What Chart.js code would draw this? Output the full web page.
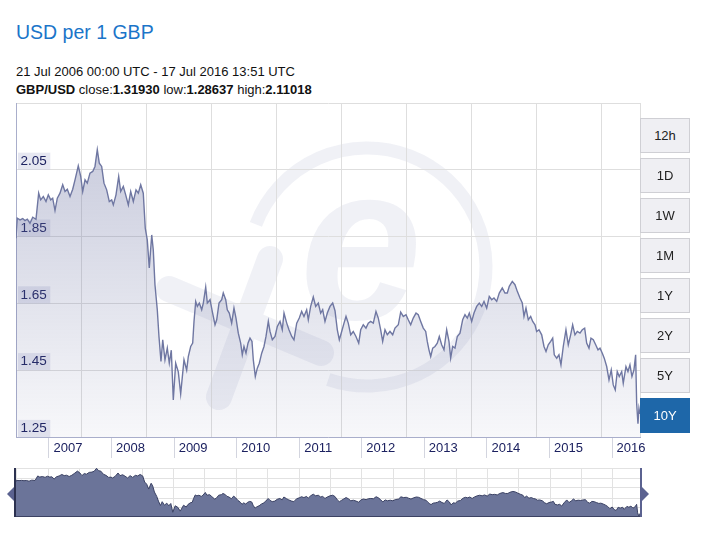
<!DOCTYPE html>
<html>
<head>
<meta charset="utf-8">
<title>USD per 1 GBP</title>
<script src="https://cdn.jsdelivr.net/npm/chart.js@4.4.1/dist/chart.umd.min.js"></script>
<style>
  body { margin: 0; width: 718px; height: 542px; background: #fff; position: relative; overflow: hidden; font-family: 'Liberation Sans', Arial, sans-serif; }
  #title { position: absolute; left: 16px; top: 22px; font-size: 19.5px; line-height: 20px; color: #1b75c9; white-space: nowrap; }
  #info { position: absolute; left: 16px; top: 62.5px; font-size: 13px; line-height: 18px; color: #111; white-space: nowrap; }
  #main-wrap { position: absolute; left: 0; top: 100px; }
  #nav-wrap { position: absolute; left: 0; top: 460px; }
  .range-btn { position: absolute; left: 640px; width: 48px; height: 33px; border: 1px solid #cfcfd4; background: #efeff3; font-size: 13px; line-height: 33px; text-align: center; color: #222; }
  .range-btn.active { background: #1e67a9; border-color: #1e67a9; color: #fff; }
</style>
</head>
<body>
<div id="title">USD per 1 GBP</div>
<div id="info">
  21 Jul 2006 00:00 UTC - 17 Jul 2016 13:51 UTC<br>
  <b>GBP/USD</b> close:<b>1.31930</b> low:<b>1.28637</b> high:<b>2.11018</b>
</div>
<div id="main-wrap"><canvas id="mainChart" width="660" height="359"></canvas></div>
<div id="nav-wrap"><canvas id="navChart" width="660" height="62"></canvas></div>
<div id="buttons"></div>

<script>
// Values (decimal years, USD per 1 GBP)
const dateYears = [
  2006.473, 2006.493, 2006.537, 2006.580, 2006.616, 2006.653, 2006.696, 2006.740, 2006.792, 2006.835,
  2006.867, 2006.909, 2006.952, 2006.989, 2007.027, 2007.059, 2007.096, 2007.133, 2007.176, 2007.219,
  2007.256, 2007.293, 2007.336, 2007.379, 2007.416, 2007.468, 2007.507, 2007.539, 2007.576, 2007.612,
  2007.655, 2007.699, 2007.735, 2007.772, 2007.804, 2007.842, 2007.879, 2007.922, 2007.964, 2008.002,
  2008.028, 2008.071, 2008.114, 2008.146, 2008.188, 2008.226, 2008.268, 2008.306, 2008.348, 2008.391,
  2008.428, 2008.466, 2008.507, 2008.539, 2008.571, 2008.603, 2008.642, 2008.667, 2008.694, 2008.731,
  2008.758, 2008.790, 2008.818, 2008.854, 2008.891, 2008.923, 2008.955, 2008.987, 2009.025, 2009.067,
  2009.105, 2009.158, 2009.201, 2009.227, 2009.265, 2009.297, 2009.318, 2009.345, 2009.371, 2009.403,
  2009.441, 2009.467, 2009.505, 2009.531, 2009.574, 2009.610, 2009.654, 2009.681, 2009.718, 2009.761,
  2009.786, 2009.825, 2009.850, 2009.882, 2009.920, 2009.957, 2009.989, 2010.026, 2010.064, 2010.090,
  2010.117, 2010.149, 2010.181, 2010.213, 2010.245, 2010.266, 2010.298, 2010.330, 2010.362, 2010.400,
  2010.437, 2010.469, 2010.506, 2010.533, 2010.570, 2010.613, 2010.650, 2010.693, 2010.729, 2010.757,
  2010.800, 2010.836, 2010.880, 2010.916, 2010.960, 2011.001, 2011.039, 2011.076, 2011.119, 2011.145,
  2011.183, 2011.225, 2011.263, 2011.305, 2011.343, 2011.375, 2011.412, 2011.449, 2011.492, 2011.535,
  2011.572, 2011.609, 2011.641, 2011.679, 2011.716, 2011.748, 2011.784, 2011.823, 2011.864, 2011.907,
  2011.951, 2011.983, 2012.024, 2012.067, 2012.104, 2012.142, 2012.184, 2012.227, 2012.264, 2012.302,
  2012.334, 2012.371, 2012.408, 2012.451, 2012.494, 2012.531, 2012.584, 2012.622, 2012.664, 2012.707,
  2012.743, 2012.782, 2012.823, 2012.867, 2012.903, 2012.942, 2012.983, 2013.022, 2013.047, 2013.074,
  2013.102, 2013.134, 2013.170, 2013.207, 2013.239, 2013.277, 2013.314, 2013.357, 2013.394, 2013.421,
  2013.453, 2013.490, 2013.527, 2013.570, 2013.613, 2013.650, 2013.687, 2013.719, 2013.757, 2013.794,
  2013.837, 2013.878, 2013.917, 2013.954, 2013.997, 2014.038, 2014.077, 2014.113, 2014.157, 2014.198,
  2014.246, 2014.289, 2014.326, 2014.358, 2014.406, 2014.449, 2014.486, 2014.529, 2014.566, 2014.593,
  2014.625, 2014.662, 2014.700, 2014.732, 2014.769, 2014.796, 2014.833, 2014.876, 2014.913, 2014.945,
  2014.981, 2015.020, 2015.052, 2015.077, 2015.116, 2015.152, 2015.184, 2015.221, 2015.264, 2015.301,
  2015.339, 2015.371, 2015.408, 2015.445, 2015.488, 2015.525, 2015.563, 2015.595, 2015.632, 2015.664,
  2015.701, 2015.739, 2015.776, 2015.808, 2015.845, 2015.876, 2015.915, 2015.952, 2015.988, 2016.020,
  2016.052, 2016.084, 2016.116, 2016.155, 2016.180, 2016.223, 2016.255, 2016.287, 2016.319, 2016.351,
  2016.378, 2016.394, 2016.415, 2016.431, 2016.447
];

const gbpUsd = [
  1.845, 1.905, 1.900, 1.904, 1.898, 1.902, 1.890, 1.908, 1.902, 1.980,
  1.960, 1.970, 1.955, 1.975, 1.960, 1.965, 1.928, 1.965, 1.980, 2.005,
  1.985, 1.992, 1.970, 1.992, 2.020, 2.062, 2.030, 1.985, 2.020, 2.010,
  2.040, 2.045, 2.060, 2.110, 2.070, 2.060, 2.010, 1.990, 1.955, 1.960,
  1.945, 1.975, 2.030, 1.985, 2.000, 1.975, 1.945, 1.985, 1.955, 1.990,
  1.980, 2.005, 1.980, 1.875, 1.840, 1.756, 1.855, 1.810, 1.706, 1.631,
  1.551, 1.476, 1.541, 1.481, 1.516, 1.471, 1.510, 1.361, 1.471, 1.445,
  1.379, 1.481, 1.450, 1.491, 1.521, 1.531, 1.596, 1.656, 1.641, 1.651,
  1.631, 1.651, 1.699, 1.651, 1.661, 1.626, 1.586, 1.601, 1.651, 1.661,
  1.681, 1.661, 1.631, 1.621, 1.591, 1.636, 1.606, 1.561, 1.531, 1.496,
  1.521, 1.501, 1.531, 1.546, 1.536, 1.481, 1.431, 1.456, 1.471, 1.501,
  1.521, 1.551, 1.596, 1.566, 1.541, 1.551, 1.581, 1.596, 1.571, 1.621,
  1.591, 1.571, 1.551, 1.541, 1.591, 1.606, 1.626, 1.611, 1.631, 1.601,
  1.641, 1.669, 1.641, 1.651, 1.621, 1.631, 1.596, 1.621, 1.641, 1.651,
  1.628, 1.571, 1.541, 1.566, 1.591, 1.611, 1.591, 1.556, 1.566, 1.551,
  1.531, 1.571, 1.586, 1.576, 1.591, 1.596, 1.591, 1.626, 1.606, 1.571,
  1.536, 1.571, 1.556, 1.566, 1.556, 1.576, 1.586, 1.624, 1.611, 1.616,
  1.601, 1.586, 1.606, 1.621, 1.616, 1.596, 1.576, 1.566, 1.536, 1.511,
  1.491, 1.516, 1.521, 1.531, 1.551, 1.526, 1.511, 1.571, 1.536, 1.486,
  1.521, 1.516, 1.551, 1.561, 1.601, 1.616, 1.606, 1.621, 1.596, 1.621,
  1.641, 1.651, 1.641, 1.656, 1.636, 1.671, 1.661, 1.666, 1.656, 1.681,
  1.696, 1.681, 1.681, 1.701, 1.716, 1.706, 1.686, 1.666, 1.651, 1.611,
  1.636, 1.601, 1.611, 1.596, 1.586, 1.566, 1.571, 1.556, 1.521, 1.506,
  1.526, 1.536, 1.546, 1.496, 1.486, 1.496, 1.466, 1.521, 1.571, 1.526,
  1.556, 1.586, 1.556, 1.566, 1.561, 1.571, 1.576, 1.531, 1.516, 1.546,
  1.541, 1.526, 1.511, 1.516, 1.501, 1.486, 1.461, 1.421, 1.451, 1.406,
  1.391, 1.446, 1.431, 1.446, 1.411, 1.461, 1.446, 1.466, 1.431, 1.451,
  1.496, 1.351, 1.290, 1.336, 1.319
];

const yearTicks = [2007, 2008, 2009, 2010, 2011, 2012, 2013, 2014, 2015, 2016];
const rateTicks = [1.25, 1.45, 1.65, 1.85, 2.05];
const rangeLabels = ['12h', '1D', '1W', '1M', '1Y', '2Y', '5Y', '10Y'];

Chart.defaults.font.family = "'Liberation Sans', Arial, sans-serif";
Chart.defaults.animation = false;

const points = dateYears.map((t, i) => ({ x: t, y: gbpUsd[i] }));
const xMin = 2006.4725;
const xMax = 2016.4476;

// Scales that should take no room in the layout
function noRoom(scale) {
  if (scale.isHorizontal()) scale.height = 0; else scale.width = 0;
  scale.paddingTop = 0;
  scale.paddingBottom = 0;
  scale.paddingLeft = 0;
  scale.paddingRight = 0;
}

function useTicks(values) {
  return function (scale) {
    scale.ticks = values.map(v => ({ value: v }));
  };
}

// Faint xe logo behind the plot
const xeWatermark = {
  id: 'xeWatermark',
  beforeDraw(chart) {
    const { ctx, chartArea } = chart;
    if (!chartArea) return;
    const cx = chartArea.left + 351;
    const cy = chartArea.top + 164;
    ctx.save();
    ctx.strokeStyle = 'rgba(218,220,232,0.4)';
    ctx.fillStyle = 'rgba(218,220,232,0.4)';
    ctx.lineWidth = 13;
    ctx.beginPath();
    ctx.arc(cx, cy, 119, -159 * Math.PI / 180, 109 * Math.PI / 180);
    ctx.stroke();
    ctx.lineCap = 'round';
    ctx.lineWidth = 26;
    ctx.beginPath();
    ctx.moveTo(cx - 198, cy + 22);
    ctx.lineTo(cx - 46, cy + 86);
    ctx.moveTo(cx - 97, cy - 8);
    ctx.lineTo(cx - 148, cy + 130);
    ctx.stroke();
    ctx.font = "italic bold 220px 'Liberation Sans', Arial, sans-serif";
    ctx.textAlign = 'center';
    ctx.fillText('e', cx - 6, cy + 52);
    ctx.restore();
  }
};

// Main chart
const mainCtx = document.getElementById('mainChart').getContext('2d');
const mainChart = new Chart(mainCtx, {
  type: 'line',
  data: {
    datasets: [{
      data: points,
      borderColor: '#6f77a2',
      borderWidth: 1.4,
      pointRadius: 0,
      tension: 0,
      fill: 'start',
      backgroundColor: function (context) {
        const area = context.chart.chartArea;
        if (!area) return 'rgba(105,112,160,0.2)';
        const g = context.chart.ctx.createLinearGradient(0, area.top, 0, area.bottom);
        g.addColorStop(0, 'rgba(105,112,160,0.40)');
        g.addColorStop(1, 'rgba(105,112,160,0.05)');
        return g;
      }
    }]
  },
  options: {
    responsive: false,
    layout: { padding: { left: 16, right: 20, top: 3, bottom: 0 } },
    plugins: { legend: { display: false }, tooltip: { enabled: false } },
    scales: {
      x: {
        type: 'linear',
        position: 'bottom',
        min: xMin,
        max: xMax,
        afterBuildTicks: useTicks(yearTicks),
        afterFit: function (scale) {
          scale.height = 22;
          scale.paddingLeft = 0;
          scale.paddingRight = 0;
        },
        grid: { drawOnChartArea: false, drawTicks: true, tickLength: 21, color: '#d3d5df' },
        border: { color: '#a9aecb' },
        ticks: {
          autoSkip: false,
          maxRotation: 0,
          padding: -17,
          labelOffset: 19,
          color: '#1c2160',
          font: { size: 13 },
          callback: v => String(v)
        }
      },
      xg: {
        type: 'linear',
        position: 'top',
        min: 0,
        max: 9.6,
        afterBuildTicks: useTicks([1, 2, 3, 4, 5, 6, 7, 8, 9, 9.6]),
        afterFit: noRoom,
        grid: { color: '#dedede', drawTicks: false },
        border: { color: '#dedede' },
        ticks: { display: false }
      },
      y: {
        min: 1.25,
        max: 2.25,
        afterBuildTicks: useTicks(rateTicks),
        afterFit: noRoom,
        grid: { color: '#dedede', drawTicks: false },
        border: { color: '#a9aecb' },
        ticks: {
          mirror: true,
          padding: 4.5,
          labelOffset: -8.5,
          showLabelBackdrop: true,
          backdropColor: 'rgba(205,207,228,0.5)',
          backdropPadding: { top: 0.5, bottom: 0.5, left: 2.5, right: 3.5 },
          color: '#1c2160',
          font: { size: 13.5 },
          callback: v => v.toFixed(2)
        }
      }
    }
  },
  plugins: [xeWatermark]
});

// Navigator frame and handles
const navigatorHandles = {
  id: 'navigatorHandles',
  afterDraw(chart) {
    const { ctx, chartArea: a } = chart;
    const mid = (a.top + a.bottom) / 2 + 1.5;
    ctx.save();
    ctx.lineWidth = 1;
    ctx.strokeStyle = '#3c4263';
    ctx.beginPath();
    ctx.moveTo(a.left, a.bottom - 0.5);
    ctx.lineTo(a.right, a.bottom - 0.5);
    ctx.stroke();
    ctx.lineWidth = 2;
    ctx.strokeStyle = '#2c3150';
    ctx.beginPath();
    ctx.moveTo(a.left, a.top);
    ctx.lineTo(a.left, a.bottom);
    ctx.stroke();
    ctx.strokeStyle = '#5b6290';
    ctx.beginPath();
    ctx.moveTo(a.right, a.top);
    ctx.lineTo(a.right, a.bottom);
    ctx.stroke();
    ctx.fillStyle = '#5b6290';
    ctx.beginPath();
    ctx.moveTo(a.left - 1, mid - 7);
    ctx.lineTo(a.left - 8, mid);
    ctx.lineTo(a.left - 1, mid + 7);
    ctx.closePath();
    ctx.fill();
    ctx.beginPath();
    ctx.moveTo(a.right + 1, mid - 7);
    ctx.lineTo(a.right + 8, mid);
    ctx.lineTo(a.right + 1, mid + 7);
    ctx.closePath();
    ctx.fill();
    ctx.restore();
  }
};

// Navigator chart
const halfYears = [2006.5];
yearTicks.forEach(y => { halfYears.push(y); if (y < 2016) halfYears.push(y + 0.5); });

const navCtx = document.getElementById('navChart').getContext('2d');
const navChart = new Chart(navCtx, {
  type: 'line',
  data: {
    datasets: [{
      data: points,
      borderColor: '#3a4163',
      borderWidth: 1,
      pointRadius: 0,
      tension: 0,
      fill: 'start',
      backgroundColor: '#6b7499'
    }]
  },
  options: {
    responsive: false,
    layout: { padding: { left: 15, right: 19, top: 8, bottom: 5 } },
    plugins: { legend: { display: false }, tooltip: { enabled: false } },
    scales: {
      x: {
        type: 'linear',
        min: xMin,
        max: xMax,
        afterBuildTicks: useTicks(halfYears),
        afterFit: noRoom,
        grid: { color: '#e2e2e2', drawTicks: false },
        border: { display: false },
        ticks: { display: false }
      },
      y: { min: 1.28, max: 2.115, display: false },
      yg: {
        type: 'linear',
        position: 'left',
        min: 0,
        max: 4.9,
        reverse: true,
        afterBuildTicks: useTicks([0, 1, 2, 3, 4]),
        afterFit: noRoom,
        grid: { color: '#e2e2e2', drawTicks: false },
        border: { display: false },
        ticks: { display: false }
      }
    }
  },
  plugins: [navigatorHandles]
});

// Range buttons
const buttons = document.getElementById('buttons');
rangeLabels.forEach((label, i) => {
  const btn = document.createElement('div');
  btn.className = 'range-btn' + (label === '10Y' ? ' active' : '');
  btn.style.top = (118 + i * 40) + 'px';
  btn.textContent = label;
  buttons.appendChild(btn);
});
</script>
</body>
</html>
